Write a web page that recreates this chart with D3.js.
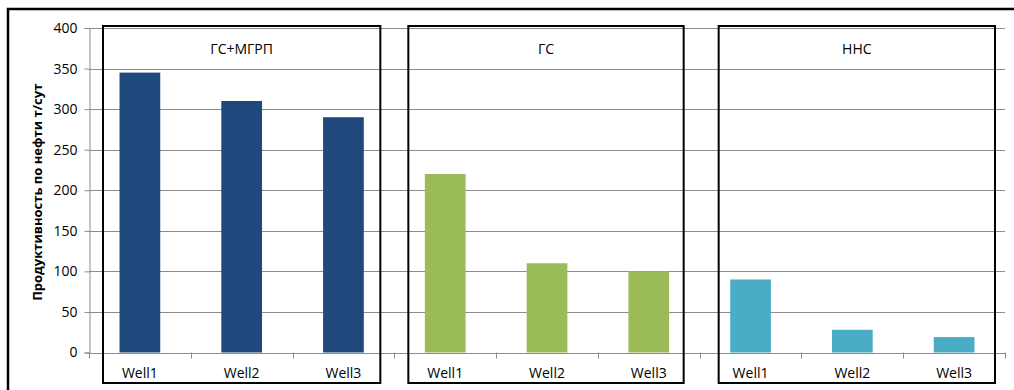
<!DOCTYPE html>
<html>
<head>
<meta charset="utf-8">
<script src="https://cdn.jsdelivr.net/npm/d3@7"></script>
<style>
  html, body { margin: 0; padding: 0; background: #fff; }
  svg { display: block; font-family: "Open Sans", "Liberation Sans", sans-serif; }
</style>
</head>
<body>
<svg id="chart" width="1014" height="390"></svg>
<script>
// Well groups and their wells
const groups = ["ГС+МГРП", "ГС", "ННС"];
const wells = ["Well1", "Well2", "Well3"];
// Oil productivity, t/day, per group
const valuesGsMgrp = [345, 310, 290];
const valuesGs = [220, 110, 100];
const valuesNns = [90, 28, 19];
const groupColors = ["#1F497D", "#9BBB59", "#4BACC6"];
const yTicks = [0, 50, 100, 150, 200, 250, 300, 350, 400];
const yTitle = "Продуктивность по нефти т/сут";

const seriesValues = [valuesGsMgrp, valuesGs, valuesNns];
const rows = [];
groups.forEach((g, gi) => wells.forEach((w, wi) => {
  rows.push({ key: g + "|" + w, group: gi, well: w, value: seriesValues[gi][wi] });
}));

const svg = d3.select("#chart");
const plotLeft = 89, plotRight = 1005, plotTop = 28, plotBottom = 352.5;

const x = d3.scaleBand().domain(rows.map(d => d.key)).range([plotLeft, plotRight]).paddingInner(0.6).paddingOuter(0.3);
const xb = d3.scaleBand().domain(rows.map(d => d.key)).range([plotLeft, plotRight]);
const y = d3.scaleLinear().domain([0, 400]).range([plotBottom, plotTop]);

// outer frame
svg.append("rect").attr("x", 8).attr("y", 9).attr("width", 1020).attr("height", 400)
  .attr("fill", "none").attr("stroke", "#000").attr("stroke-width", 2.5);

// gridlines
svg.append("g").selectAll("line").data(yTicks.filter(t => t > 0)).join("line")
  .attr("x1", plotLeft).attr("x2", plotRight)
  .attr("y1", d => Math.round(y(d)) + 0.5).attr("y2", d => Math.round(y(d)) + 0.5)
  .attr("stroke", "#8c8c8c").attr("stroke-width", 1);

// y axis
const yAxis = svg.append("g").attr("transform", `translate(${plotLeft + 0.5},0)`)
  .call(d3.axisLeft(y).tickValues(yTicks).tickSize(5).tickPadding(7));
yAxis.select(".domain").attr("stroke", "#8c8c8c");
yAxis.selectAll(".tick line").attr("stroke", "#8c8c8c");
yAxis.selectAll(".tick text").attr("fill", "#000").style("font-size", "14px")
  .style("font-family", "'Open Sans', sans-serif");

// x baseline with category separators
svg.append("line").attr("x1", plotLeft).attr("x2", plotRight)
  .attr("y1", Math.round(plotBottom) + 0.5).attr("y2", Math.round(plotBottom) + 0.5)
  .attr("stroke", "#8c8c8c");
const sepX = rows.map(d => xb(d.key)).concat([plotRight]);
svg.append("g").selectAll("line").data(sepX).join("line")
  .attr("x1", d => Math.round(d) + 0.5).attr("x2", d => Math.round(d) + 0.5)
  .attr("y1", plotBottom).attr("y2", plotBottom + 6)
  .attr("stroke", "#8c8c8c");

// bars
svg.append("g").selectAll("rect").data(rows).join("rect")
  .attr("x", d => x(d.key)).attr("width", x.bandwidth())
  .attr("y", d => y(d.value)).attr("height", d => y(0) - y(d.value))
  .attr("fill", d => groupColors[d.group]);

// category labels
svg.append("g").selectAll("text").data(rows).join("text")
  .attr("x", d => xb(d.key) + xb.bandwidth() / 2).attr("y", 378)
  .attr("text-anchor", "middle").style("font-size", "14px").attr("fill", "#000")
  .text(d => d.well);

// group boxes with titles (box edges sit inside the outer category bands)
const boxInsetL = [14, 14, 19];
const boxInsetR = [14, 16, 10];
groups.forEach((g, gi) => {
  const first = xb(g + "|" + wells[0]);
  const last = xb(g + "|" + wells[wells.length - 1]) + xb.bandwidth();
  const bx = first + boxInsetL[gi], bw = last - boxInsetR[gi] - bx;
  svg.append("rect").attr("x", bx).attr("y", 26).attr("width", bw).attr("height", 357)
    .attr("fill", "none").attr("stroke", "#000").attr("stroke-width", 2);
  svg.append("text").attr("x", bx + bw / 2).attr("y", 54)
    .attr("text-anchor", "middle").style("font-size", "14px").attr("fill", "#000")
    .text(g);
});

// y axis title
svg.append("text")
  .attr("transform", `translate(42,${(plotTop + plotBottom) / 2 + 2}) rotate(-90)`)
  .attr("text-anchor", "middle").style("font-size", "13px").style("font-weight", "bold")
  .attr("fill", "#000").text(yTitle);
</script>
</body>
</html>
